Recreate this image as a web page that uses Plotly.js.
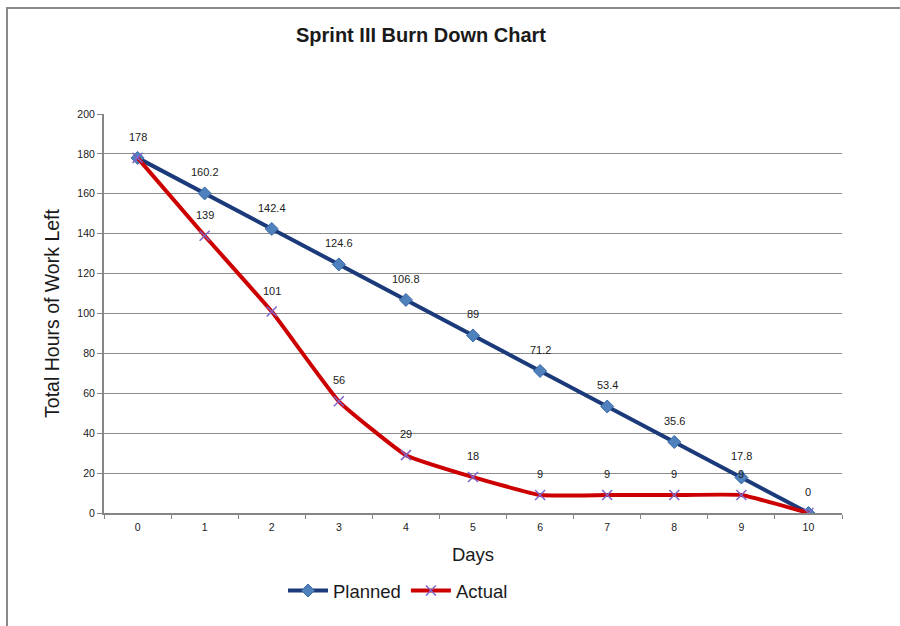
<!DOCTYPE html>
<html>
<head>
<meta charset="utf-8">
<script src="https://cdn.plot.ly/plotly-3.0.1.min.js"></script>
<style>html,body{margin:0;padding:0;background:#fff;}#chart{width:900px;height:626px;}</style>
</head>
<body>
<div id="chart"></div>
<script>
const days = ["0","1","2","3","4","5","6","7","8","9","10"];
const planned = [178, 160.2, 142.4, 124.6, 106.8, 89, 71.2, 53.4, 35.6, 17.8, 0];
const actual = [178, 139, 101, 56, 29, 18, 9, 9, 9, 9, 0];
const plannedLabels = ["178","160.2","142.4","124.6","106.8","89","71.2","53.4","35.6","17.8","0"];
const actualLabels = ["178","139","101","56","29","18","9","9","9","9","0"];

const F = "Liberation Sans, Arial, sans-serif";

const traces = [
  {
    x: days, y: planned, name: "Planned", mode: "lines+markers", type: "scatter",
    line: {color: "#1B3A7A", width: 4},
    marker: {symbol: "diamond", size: 10, color: "#4F81BD", line: {color: "#3A6AA8", width: 1}}
  },
  {
    x: days, y: actual, name: "Actual", mode: "lines+markers", type: "scatter",
    line: {color: "#CC0000", width: 4, shape: "spline", smoothing: 0.35},
    marker: {symbol: "x-thin", size: 10, color: "#8064C8", line: {color: "#8064C8", width: 1.5}}
  }
];

const annotations = [];
days.forEach((d, i) => {
  annotations.push({x: d, y: planned[i], text: plannedLabels[i], showarrow: false, yshift: 21,
    font: {family: F, size: 11, color: "#1a1a1a"}});
  if (actualLabels[i] !== plannedLabels[i]) {
    annotations.push({x: d, y: actual[i], text: actualLabels[i], showarrow: false, yshift: 21,
      font: {family: F, size: 11, color: "#1a1a1a"}});
  }
});

const L = 104, R = 842, T = 114, B = 513;
const px = v => (v - L) / (R - L);
const py = v => (B - v) / (B - T);

const layout = {
  width: 900, height: 626,
  margin: {l: L, r: 900 - R, t: T, b: 626 - B},
  paper_bgcolor: "#ffffff", plot_bgcolor: "#ffffff",
  title: {text: "<b>Sprint III Burn Down Chart</b>", x: 421/900, xref: "container", xanchor: "center",
    y: 1 - 35/626, yref: "container", yanchor: "middle",
    font: {family: F, size: 20, color: "#1a1a1a"}},
  xaxis: {
    type: "category", range: [-0.5, 10.5], tickson: "boundaries", ticks: "outside", ticklen: 4,
    tickcolor: "#868686", showline: true, linecolor: "#868686", linewidth: 2,
    showgrid: false, zeroline: false, ticklabelstandoff: 3,
    tickfont: {family: F, size: 10.5, color: "#1a1a1a"},
    title: {text: "Days", font: {family: F, size: 18.5, color: "#1a1a1a"}, standoff: 16}
  },
  yaxis: {
    range: [0, 200], dtick: 20, ticks: "outside", ticklen: 5, tickcolor: "#868686",
    showline: true, linecolor: "#868686", linewidth: 2,
    showgrid: true, gridcolor: "#8c8c8c", gridwidth: 1, zeroline: false,
    tickfont: {family: F, size: 10.5, color: "#1a1a1a"},
    title: {text: "Total Hours of Work Left", font: {family: F, size: 19.5, color: "#1a1a1a"}, standoff: 13}
  },
  legend: {orientation: "h", x: px(398), xref: "paper", xanchor: "center", y: py(591), yanchor: "middle",
    font: {family: F, size: 18.5, color: "#1a1a1a"}, traceorder: "normal", itemwidth: 40},
  showlegend: true,
  annotations: annotations,
  shapes: [
    {type: "rect", xref: "paper", yref: "paper", x0: px(7), x1: px(960), y0: py(700), y1: py(8),
      line: {color: "#8a8a8a", width: 2}, layer: "below"}
  ]
};

Plotly.newPlot("chart", traces, layout, {displayModeBar: false, staticPlot: true});
</script>
</body>
</html>
